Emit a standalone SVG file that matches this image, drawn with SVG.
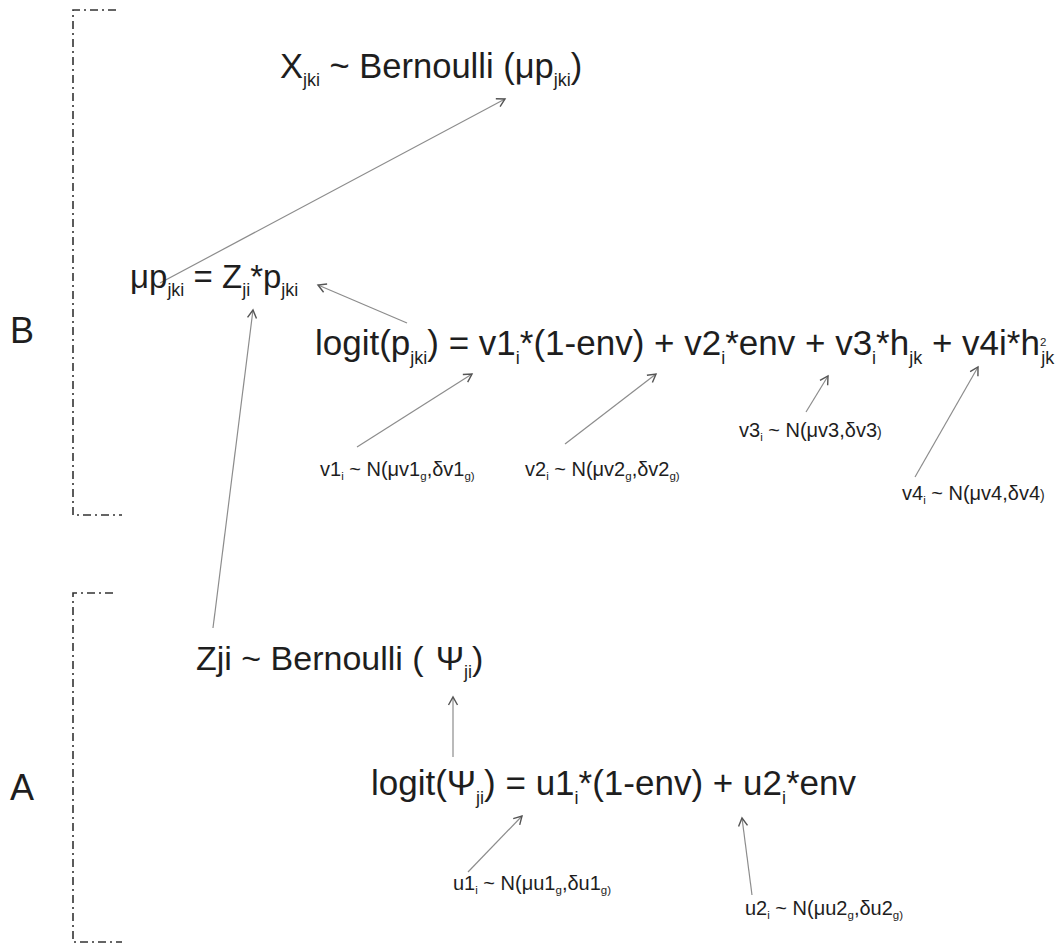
<svg xmlns="http://www.w3.org/2000/svg" width="1058" height="944" viewBox="0 0 1058 944">
<style>
text{font-family:"Liberation Sans",Arial,sans-serif;fill:#1e1e1e}
.big{font-size:35px}
.mid{font-size:33px}
.lab{font-size:20px}
.s{font-size:18px}
.ss{font-size:11.5px}
.c{stroke:#8c8c8c;stroke-width:1.2;fill:none;marker-end:url(#ah)}
.br{stroke:#333;stroke-width:1.6;fill:none;stroke-dasharray:8 4 2 4}
</style>
<defs>
<marker id="ah" markerUnits="userSpaceOnUse" viewBox="-10 -6 12 12" refX="0" refY="0" markerWidth="12" markerHeight="12" orient="auto">
<path d="M-8,-4.5 L0,0 L-8,4.5" stroke="#555" stroke-width="1.4" fill="none"/>
</marker>
</defs>
<g id="brackets">
<path class="br" d="M116,10 H73 V515 H122"/>
<path class="br" d="M113,593 H73 V942 H122"/>
</g>
<g id="labelB"><text x="10" y="343" style="font-size:36px">B</text></g>
<g id="labelA"><text x="10" y="800" style="font-size:36px">A</text></g>
<g id="connectors">
<line class="c" x1="160" y1="283" x2="505" y2="99"/>
<line class="c" x1="407" y1="323" x2="318" y2="285"/>
<line class="c" x1="213" y1="628" x2="253" y2="310"/>
<line class="c" x1="357" y1="447" x2="472" y2="374"/>
<line class="c" x1="565" y1="444" x2="656" y2="374"/>
<line class="c" x1="806" y1="412" x2="828" y2="376"/>
<line class="c" x1="915" y1="477" x2="978" y2="367"/>
<line class="c" x1="453" y1="757" x2="453" y2="697"/>
<line class="c" x1="468" y1="872" x2="522" y2="816"/>
<line class="c" x1="752" y1="895" x2="742" y2="818"/>
</g>
<g id="n_x"><text x="280" y="78" style="font-size:34.5px">X<tspan class="s" dy="8">jki</tspan><tspan dy="-8"> ~ Bernoulli (μp</tspan><tspan class="s" dy="8">jki</tspan><tspan dy="-8">)</tspan></text></g>
<g id="n_mup"><text x="130" y="288" class="mid">μp<tspan class="s" dy="8">jki</tspan><tspan dy="-8"> = Z</tspan><tspan class="s" dy="8">ji</tspan><tspan dy="-8">*p</tspan><tspan class="s" dy="8">jki</tspan></text></g>
<g id="n_logitp"><text x="315" y="355" class="big">logit(p<tspan class="s" dy="9">jki</tspan><tspan dy="-9">) = v1</tspan><tspan class="s" dy="9">i</tspan><tspan dy="-9">*(1-env) + v2</tspan><tspan class="s" dy="9">i</tspan><tspan dy="-9">*env + v3</tspan><tspan class="s" dy="9">i</tspan><tspan dy="-9">*h</tspan><tspan class="s" dy="9">jk</tspan><tspan dy="-9"> + v4i*h</tspan><tspan class="ss" dy="-9">2</tspan><tspan class="s" dx="-5" dy="18">jk</tspan></text></g>
<g id="n_v1"><text x="320" y="476" class="lab">v1<tspan class="ss" dy="4">i</tspan><tspan dy="-4"> ~ N(μv1</tspan><tspan class="ss" dy="4">g</tspan><tspan dy="-4">,δv1</tspan><tspan class="ss" dy="4">g)</tspan></text></g>
<g id="n_v2"><text x="525" y="476" class="lab">v2<tspan class="ss" dy="4">i</tspan><tspan dy="-4"> ~ N(μv2</tspan><tspan class="ss" dy="4">g</tspan><tspan dy="-4">,δv2</tspan><tspan class="ss" dy="4">g)</tspan></text></g>
<g id="n_v3"><text x="739" y="437" class="lab">v3<tspan class="ss" dy="4">i</tspan><tspan dy="-4"> ~ N(μv3,δv3</tspan><tspan style="font-size:14px">)</tspan></text></g>
<g id="n_v4"><text x="902" y="500" class="lab">v4<tspan class="ss" dy="4">i</tspan><tspan dy="-4"> ~ N(μv4,δv4</tspan><tspan style="font-size:14px">)</tspan></text></g>
<g id="n_z"><text x="196" y="670" style="font-size:34px">Zji ~ Bernoulli (<tspan dx="12">Ψ</tspan><tspan class="s" dy="8">ji</tspan><tspan dy="-8">)</tspan></text></g>
<g id="n_logitpsi"><text x="371" y="795" class="big">logit(Ψ<tspan class="s" dy="9">ji</tspan><tspan dy="-9">) = u1</tspan><tspan class="s" dy="9">i</tspan><tspan dy="-9">*(1-env) + u2</tspan><tspan class="s" dy="9">i</tspan><tspan dy="-9">*env</tspan></text></g>
<g id="n_u1"><text x="453" y="890" class="lab">u1<tspan class="ss" dy="4">i</tspan><tspan dy="-4"> ~ N(μu1</tspan><tspan class="ss" dy="4">g</tspan><tspan dy="-4">,δu1</tspan><tspan class="ss" dy="4">g)</tspan></text></g>
<g id="n_u2"><text x="745" y="915" class="lab">u2<tspan class="ss" dy="4">i</tspan><tspan dy="-4"> ~ N(μu2</tspan><tspan class="ss" dy="4">g</tspan><tspan dy="-4">,δu2</tspan><tspan class="ss" dy="4">g)</tspan></text></g>
</svg>
